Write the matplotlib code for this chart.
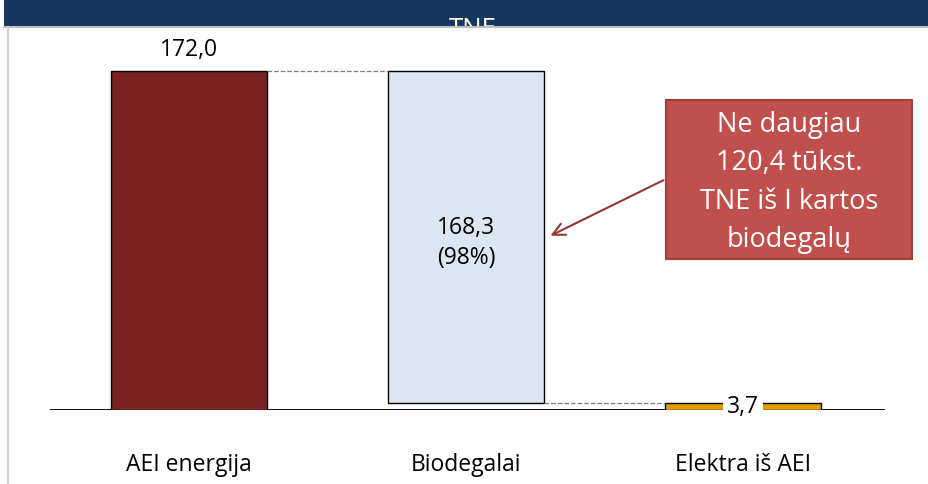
import matplotlib
matplotlib.use("Agg")
from matplotlib import pyplot as plt
from matplotlib.patches import Rectangle

plt.rcParams['font.family'] = ['Open Sans', 'DejaVu Sans']

categories = ['AEI energija', 'Biodegalai', 'Elektra iš AEI']
total = 172.0
biofuel = 168.3
electricity = 3.7
bio_share = '(98%)'
callout = 'Ne daugiau\n120,4 tūkst.\nTNE iš I kartos\nbiodegalų'

# waterfall: bottoms and heights
bottoms = [0, electricity, 0]
heights = [total, biofuel, electricity]
colors = ['#7B2323', '#DCE6F2', '#E39C0B']
width = 0.563


def fmt(v):
    return f'{v:.1f}'.replace('.', ',')


fig = plt.figure(figsize=(9.29, 4.85), dpi=100)
fig.patch.set_facecolor('white')

# header band
band = Rectangle((4 / 929, 1 - 27 / 485), 1, 27 / 485, transform=fig.transFigure,
                 facecolor='#17375E', edgecolor='none', zorder=0)
fig.patches.append(band)
fig.add_artist(plt.Line2D([4 / 929, 1], [1 - 28 / 485] * 2, color='#BFBFBF', lw=1.5))
fig.add_artist(plt.Line2D([8 / 929] * 2, [0, 1 - 28 / 485], color='#D0D0D0', lw=1.5))
t = fig.text(473 / 929, 1 - 17 / 485, 'TNE', color='white', fontsize=18.5, ha='center', va='top')
t.set_clip_path(band)

ax = fig.add_axes([50 / 929, 1 - 411 / 485, 835 / 929, 384 / 485])
ax.set_xlim(-0.502, 2.513)
ax.set_ylim(0, 194.8)
for s in ax.spines.values():
    s.set_visible(False)
ax.set_xticks([])
ax.set_yticks([])
ax.axhline(0, color='black', lw=1.3, zorder=1)

x = list(range(len(categories)))
ax.bar(x, heights, width, bottom=bottoms, color=colors, edgecolor='black', lw=1, zorder=2)

# connectors
ax.plot([x[0] + width / 2, x[1] - width / 2], [total, total], ls='--', color='#7F7F7F', lw=0.9)
ax.plot([x[1] + width / 2, x[2] - width / 2], [electricity, electricity], ls='--', color='#7F7F7F', lw=0.9)

ax.text(x[0], total + 5, fmt(total), ha='center', va='bottom', fontsize=16.5)
ax.text(x[1], electricity + biofuel / 2 - 2.5, fmt(biofuel) + '\n' + bio_share,
        ha='center', va='center', fontsize=16.5, linespacing=1.35)
ax.text(x[2], electricity / 2, fmt(electricity), ha='center', va='center',
        fontsize=16.5, bbox=dict(facecolor='white', edgecolor='none', pad=3), zorder=3)

for xi, c in zip(x, categories):
    ax.text(xi, -27.4, c, ha='center', va='center', fontsize=16.5, clip_on=False)

# callout
ax.add_patch(Rectangle((1.722, 76.6), 0.888, 80.7, facecolor='#C0504D', edgecolor='#A33F3C',
                       lw=1.5, zorder=4, clip_on=False))
ax.text(2.166, 116.0, callout, color='white', ha='center', va='center', fontsize=19.5,
        linespacing=1.5, zorder=5, clip_on=False)
ax.annotate('', xy=(1.296, 87.8), xytext=(1.722, 117.2),
            arrowprops=dict(arrowstyle='->', color='#953735', lw=1.5, mutation_scale=22), zorder=5)

fig.savefig('out.png', dpi=100)
